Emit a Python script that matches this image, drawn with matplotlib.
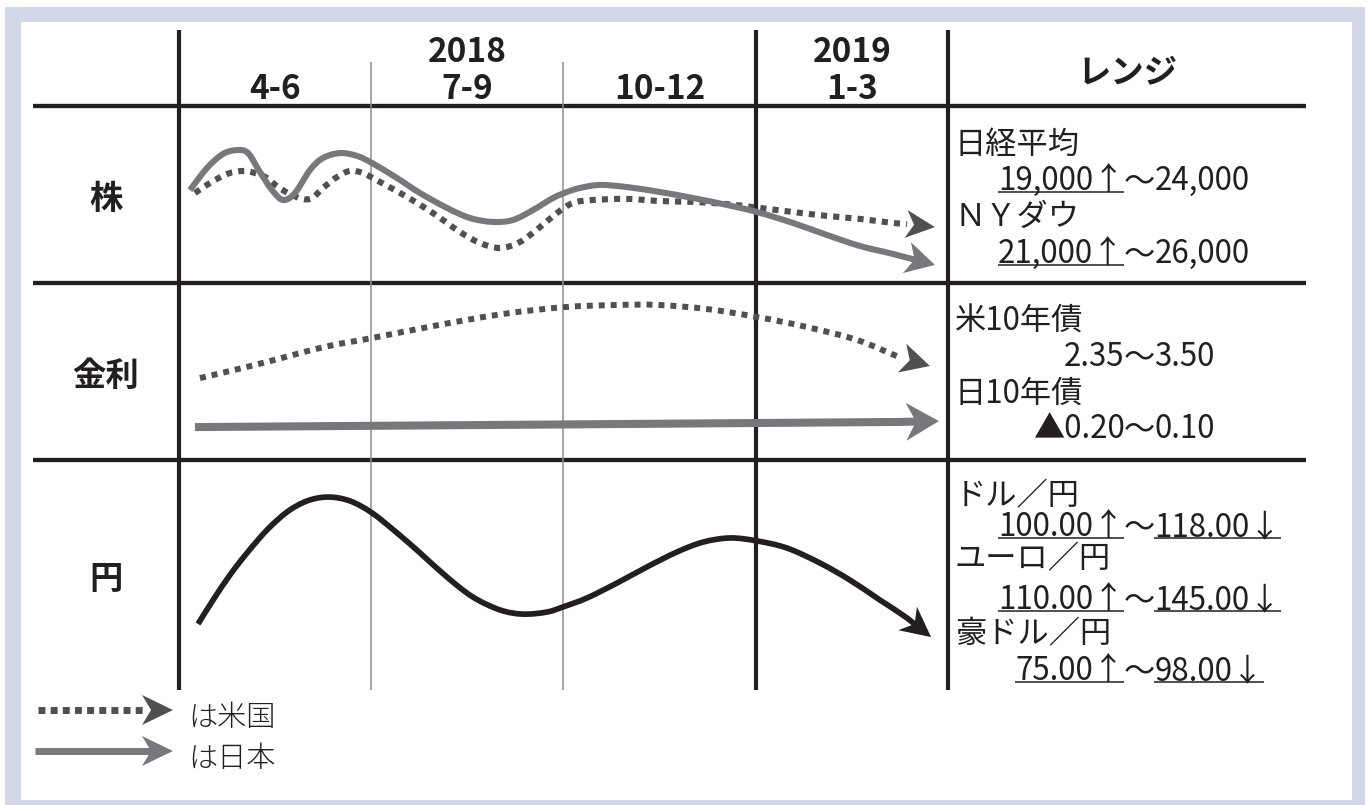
import matplotlib
matplotlib.use("Agg")  # no display
import matplotlib.pyplot as plt
import numpy as np
from matplotlib.patches import PathPatch, Polygon, Rectangle
from matplotlib.path import Path
from matplotlib.transforms import IdentityTransform

plt.rcParams["font.family"] = ["Noto Sans CJK JP", "DejaVu Sans"]

# ---- data ---------------------------------------------------------------
years = ["2018", "2019"]
year_centers = [1.5, 3.5]          # in quarter units
quarters = ["4-6", "7-9", "10-12", "1-3"]
row_names = ["株", "金利", "円"]

# curves: x = quarters since Apr 2018 (0..4), y = level 0..100 inside the row.
# last point of each curve is the arrow tip
stock_jp_q = [0.057, 0.146, 0.229, 0.302, 0.359, 0.421, 0.484, 0.541, 0.603, 0.681,
              0.749, 0.837, 0.926, 1.004, 1.134, 1.254, 1.394, 1.514, 1.633, 1.737,
              1.841, 1.945, 2.018, 2.086, 2.190, 2.330, 2.502, 2.674, 2.850, 3.007,
              3.194, 3.371, 3.542, 3.714, 3.932]
stock_jp_v = [52.5, 65.0, 72.9, 75.1, 73.4, 62.7, 52.5, 46.9, 50.8, 63.8,
              70.6, 73.4, 71.8, 67.8, 59.3, 50.8, 42.4, 36.7, 34.5, 35.6,
              41.2, 48.0, 51.4, 53.7, 55.4, 54.2, 51.4, 48.0, 44.1, 40.1,
              33.9, 27.1, 20.9, 16.4, 10.2]
stock_us_q = [0.083, 0.161, 0.250, 0.333, 0.395, 0.458, 0.515, 0.577, 0.640, 0.692,
              0.749, 0.822, 0.889, 0.957, 1.045, 1.186, 1.321, 1.462, 1.566, 1.670,
              1.774, 1.878, 1.966, 2.049, 2.153, 2.330, 2.502, 2.674, 2.850, 3.022,
              3.194, 3.371, 3.542, 3.714, 3.787, 3.932]
stock_us_v = [50.8, 56.5, 61.6, 63.3, 62.1, 59.3, 54.2, 50.3, 47.5, 48.0,
              53.7, 59.9, 63.3, 62.1, 57.1, 48.6, 39.5, 28.8, 22.6, 19.8,
              23.2, 31.6, 39.5, 45.2, 46.9, 47.5, 46.3, 45.8, 44.6, 42.4,
              40.1, 37.9, 36.2, 33.9, 33.3, 31.6]

rate_us_q = [0.109, 0.395, 0.754, 1.004, 1.352, 1.685, 2.008, 2.284, 2.492, 2.746,
             3.007, 3.267, 3.527, 3.761, 3.906]
rate_us_v = [46.3, 53.7, 63.8, 68.9, 76.3, 82.5, 86.4, 87.6, 87.6, 85.3,
             80.8, 75.1, 67.8, 57.6, 53.1]
rate_jp_q = [0.083, 3.750, 3.953]
rate_jp_v = [18.6, 21.5, 22.0]

yen_q = [0.099, 0.177, 0.265, 0.354, 0.458, 0.562, 0.666, 0.775, 0.889, 1.004,
         1.134, 1.254, 1.394, 1.529, 1.670, 1.789, 1.914, 1.997, 2.122, 2.278,
         2.434, 2.590, 2.726, 2.866, 3.007, 3.163, 3.334, 3.490, 3.646, 3.787,
         3.912]
yen_v = [28.7, 39.1, 50.0, 59.6, 69.6, 77.4, 82.2, 83.9, 82.2, 77.0,
         68.3, 59.6, 49.1, 40.4, 34.8, 33.0, 33.9, 36.1, 40.0, 46.5,
         53.5, 60.0, 64.3, 66.1, 64.8, 61.7, 55.2, 47.8, 39.1, 31.3,
         23.0]

# range column
stock_labels = ["日経平均", "ＮＹダウ"]
stock_ranges = [("19,000↑", "24,000"), ("21,000↑", "26,000")]
rate_labels = ["米10年債", "日10年債"]
rate_ranges = [("2.35", "3.50"), ("▲0.20", "0.10")]
fx_labels = ["ドル／円", "ユーロ／円", "豪ドル／円"]
fx_ranges = [("100.00↑", "118.00↓"), ("110.00↑", "145.00↓"), ("75.00↑", "98.00↓")]
legend_labels = ["は米国", "は日本"]

# ---- style / layout -------------------------------------------------------
TEXT = "#231f20"
GRID = "#8e8e8e"
JP_GRAY = "#77787b"
US_GRAY = "#505053"
FRAME = "#d2d8e7"

W, H = 1370, 805
X0, QW = 179, 192.25                 # left edge of the time area, px per quarter
ROWS = [(106, 283), (283, 460), (460, 690)]
LABEL_X, TILDE_X = 955, 1139.5
RANGE_FS = 22.5

fig = plt.figure(figsize=(W / 100, H / 100), dpi=100)
ax = fig.add_axes([0, 0, 1, 1])
ax.set_xlim(0, W)
ax.set_ylim(H, 0)
ax.axis("off")
renderer = fig.canvas.get_renderer()

ax.add_patch(Rectangle((5, 7), 1360, 798, color=FRAME, lw=0))
ax.add_patch(Rectangle((21, 22), 1331, 778, color="white", lw=0))

# table grid
for y in (ROWS[0][0], ROWS[1][0], ROWS[2][0]):
    ax.plot([33, 1306], [y, y], color=TEXT, lw=3.1, solid_capstyle="butt")
for i in range(5):
    x = X0 + i * QW
    if i in (0, 3, 4):
        ax.plot([x, x], [30, 690], color=TEXT, lw=3.0, solid_capstyle="butt")
    else:
        ax.plot([x, x], [62, 690], color=GRID, lw=1.1, solid_capstyle="butt")

# header
for yr, c in zip(years, year_centers):
    ax.text(X0 + c * QW, 62, yr, ha="center", va="baseline", fontsize=24,
            fontweight="bold", color=TEXT)
for i, qs in enumerate(quarters):
    ax.text(X0 + (i + 0.5) * QW, 99, qs, ha="center", va="baseline", fontsize=24,
            fontweight="bold", color=TEXT)
ax.text(1128, 83, "レンジ", ha="center", va="baseline", fontsize=24,
        fontweight="bold", color=TEXT)

for name, (top, bot) in zip(row_names, ROWS):
    ax.text(106, (top + bot) / 2 + 14, name, ha="center", va="baseline",
            fontsize=24, fontweight="bold", color=TEXT)


def range_line(y, low, high):
    kw = dict(va="baseline", fontsize=RANGE_FS, color=TEXT)
    t1 = ax.text(TILDE_X - 15, y, low, ha="right", **kw)
    ax.text(TILDE_X, y, "～", ha="center", **kw)
    t2 = ax.text(TILDE_X + 15, y, high, ha="left", **kw)
    inv = ax.transData.inverted()
    for t, s in ((t1, low), (t2, high)):
        if s[-1] in "↑↓":
            bb = t.get_window_extent(renderer)
            xa = inv.transform((bb.x0, bb.y0))[0]
            xb = inv.transform((bb.x1, bb.y0))[0]
            ax.plot([xa, xb], [y + 2, y + 2], color=TEXT, lw=1.1,
                    solid_capstyle="butt")


def range_block(labels, ranges, label_y, value_y):
    for lab, rng, ly, vy in zip(labels, ranges, label_y, value_y):
        ax.text(LABEL_X, ly, lab, ha="left", va="baseline", fontsize=RANGE_FS,
                color=TEXT)
        range_line(vy, *rng)


range_block(stock_labels, stock_ranges, [154, 226], [190, 263])
range_block(rate_labels, rate_ranges, [330, 403], [366, 438])
range_block(fx_labels, fx_ranges, [505, 568, 643], [536, 609, 680])


# ---- curves ----------------------------------------------------------------
def arrow_head(axr, p_from, p_tip, length, half_w, notch, color):
    """Notched arrow head built in pixel space; returns shaft end in data coords."""
    a = axr.transData.transform(p_from)
    b = axr.transData.transform(p_tip)
    d = (b - a) / np.hypot(*(b - a))
    n = np.array([-d[1], d[0]])
    base = b - d * length
    pts = [b, base + n * half_w, b - d * (length - notch), base - n * half_w]
    axr.add_patch(Polygon(pts, closed=True, transform=IdentityTransform(),
                          facecolor=color, edgecolor="none", clip_on=False, zorder=4))
    return axr.transData.inverted().transform(b - d * (length - notch - 1))


def smooth_path(p, tail, shaft_end=None):
    # cubic pieces through the read points (Catmull-Rom handles)
    verts, codes = [p[0]], [Path.MOVETO]
    for i in range(len(p) - 1):
        prev = p[i - 1] if i > 0 else p[i]
        nxt = p[i + 2] if i + 2 < len(p) else tail
        verts += [p[i] + (p[i + 1] - prev) / 6, p[i + 1] - (nxt - p[i]) / 6, p[i + 1]]
        codes += [Path.CURVE4] * 3
    if shaft_end is not None:
        verts.append(shaft_end)
        codes.append(Path.LINETO)
    return Path(verts, codes)


def draw_curve(axr, q, v, color, lw, dotted, head):
    pts = np.column_stack([q, v])
    end = arrow_head(axr, pts[-2], pts[-1], *head, color)
    path = smooth_path(pts[:-1], pts[-1], None if dotted else end)
    axr.add_patch(PathPatch(path, fill=False, edgecolor=color, lw=lw,
                            linestyle=(0, (1, 1)) if dotted else "-",
                            capstyle="butt", joinstyle="round", clip_on=False,
                            zorder=3))


row_axes = []
for top, bot in ROWS:
    axr = fig.add_axes([X0 / W, 1 - bot / H, 4 * QW / W, (bot - top) / H])
    axr.set_xlim(0, 4)
    axr.set_ylim(0, 100)
    axr.axis("off")
    axr.patch.set_alpha(0)
    row_axes.append(axr)

draw_curve(row_axes[0], stock_us_q, stock_us_v, US_GRAY, 4.4, True, (29, 14, 8))
draw_curve(row_axes[0], stock_jp_q, stock_jp_v, JP_GRAY, 4.4, False, (29, 16, 8))
draw_curve(row_axes[1], rate_us_q, rate_us_v, US_GRAY, 4.3, True, (29, 15, 8))
draw_curve(row_axes[1], rate_jp_q, rate_jp_v, JP_GRAY, 5.8, False, (33, 19, 10))
draw_curve(row_axes[2], yen_q, yen_v, TEXT, 4.1, False, (30, 15, 9))

# ---- legend -------------------------------------------------------------------
ax.plot([38, 146], [710, 710], color=US_GRAY, lw=5, linestyle=(0, (1, 0.75)),
        dash_capstyle="butt")
ax.plot([35, 152], [751, 751], color=JP_GRAY, lw=5, solid_capstyle="butt")
for y, col in ((710, US_GRAY), (751, JP_GRAY)):
    arrow_head(ax, (100, y), (173, y), 31, 15, 9, col)
for lab, y in zip(legend_labels, (726, 767)):
    ax.text(188, y, lab, ha="left", va="baseline", fontsize=21, fontweight="light",
            color=TEXT)

fig.savefig("out.png", dpi=100)
